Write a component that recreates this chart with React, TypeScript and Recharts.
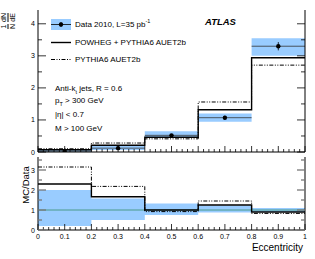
import React from 'react';
import {
  ComposedChart, Line, Area, Scatter, ErrorBar, XAxis, YAxis, ReferenceLine,
} from 'recharts';

// bin edges of eccentricity
const edges = [0, 0.2, 0.4, 0.6, 0.8, 1.0];
const centers = [0.1, 0.3, 0.5, 0.7, 0.9];

// 1/N dN/dE
const dataVals = [0.03, 0.12, 0.52, 1.07, 3.3];
const dataStat = [0.01, 0.02, 0.03, 0.06, 0.13];
const dataSysLo = [0.01, 0.06, 0.44, 0.94, 3.0];
const dataSysHi = [0.06, 0.19, 0.65, 1.2, 3.55];
const powheg = [0.07, 0.21, 0.46, 1.32, 2.94];
const pythia = [0.1, 0.28, 0.41, 1.56, 2.71];

// MC / Data
const ratioPowheg = [2.3, 1.66, 1.0, 1.25, 0.9];
const ratioPythia = [3.15, 2.18, 0.92, 1.45, 0.83];
const ratioBandLo = [0.2, 0.5, 0.75, 0.88, 0.9];
const ratioBandHi = [2.0, 1.57, 1.32, 1.22, 1.1];

const xMajor = ['0', '0.1', '0.2', '0.3', '0.4', '0.5', '0.6', '0.7', '0.8', '0.9', '1'];

const FONT = '"Liberation Sans", Arial, sans-serif';
const BLUE = '#99ccff';

const steps = (vals: number[]) => edges.map((_, i) => vals[Math.min(i, vals.length - 1)]);

const topPow = steps(powheg);
const topPy = steps(pythia);
const topLo = steps(dataSysLo);
const topHi = steps(dataSysHi);
const topRows = edges.map((x, i) => ({ x, pow: topPow[i], py: topPy[i], band: [topLo[i], topHi[i]] }));

const rPow = steps(ratioPowheg);
const rPy = steps(ratioPythia);
const rLo = steps(ratioBandLo);
const rHi = steps(ratioBandHi);
const ratioRows = edges.map((x, i) => ({ x, pow: rPow[i], py: rPy[i], band: [rLo[i], rHi[i]] }));

const points = centers.map((x, i) => ({ x, y: dataVals[i], ey: dataStat[i], ex: 0.1 }));

const range = (a: number, b: number, s: number) => {
  const out: number[] = [];
  for (let v = a; v <= b + 1e-9; v += s) out.push(Math.round(v * 1000) / 1000);
  return out;
};
const xTicks = range(0, 1, 0.02);
const isMajorX = (v: number) => Math.abs(v * 10 - Math.round(v * 10)) < 1e-6;
const isInt = (v: number) => Math.abs(v - Math.round(v)) < 1e-6;

const BottomTick = ({ x, y, payload, labels }: any) => {
  const major = isMajorX(payload.value);
  const idx = Math.round(payload.value * 10);
  return (
    <g>
      <line x1={x} x2={x} y1={y} y2={y - (major ? 6 : 3)} stroke="#000" strokeWidth={0.8} />
      {labels && major && (
        <text x={x} y={y + 9} textAnchor="middle" fontSize={7} fontFamily={FONT} fill="#000">
          {xMajor[idx]}
        </text>
      )}
    </g>
  );
};

const TopTick = ({ x, y, payload }: any) => {
  const major = isMajorX(payload.value);
  return <line x1={x} x2={x} y1={y} y2={y + (major ? 6 : 3)} stroke="#000" strokeWidth={0.8} />;
};

const LeftTick = ({ x, y, payload, grey }: any) => {
  const major = isInt(payload.value);
  return (
    <g>
      <line x1={x} x2={x + (major ? 8 : 4)} y1={y} y2={y} stroke={grey ? '#777' : '#000'} strokeWidth={grey ? 1.3 : 0.8} />
      {major && (
        <text x={x - 3} y={y + 2.5} textAnchor="end" fontSize={7} fontFamily={FONT} fill="#000">
          {payload.value}
        </text>
      )}
    </g>
  );
};

const RightTick = ({ x, y, payload, grey }: any) => {
  const major = isInt(payload.value);
  return <line x1={x} x2={x - (major ? 8 : 4)} y1={y} y2={y} stroke={grey ? '#777' : '#000'} strokeWidth={grey ? 1.3 : 0.8} />;
};

const Frac = ({ n, d }: { n: string; d: string }) => (
  <span style={{ display: 'inline-block', textAlign: 'center', verticalAlign: 'middle', margin: '0 1px' }}>
    <span style={{ display: 'block', lineHeight: '8px' }}>{n}</span>
    <span style={{ display: 'block', borderTop: '0.8px solid #000', lineHeight: '8px' }}>{d}</span>
  </span>
);

const txt: React.CSSProperties = { position: 'absolute', fontFamily: FONT, fontSize: 8, color: '#000', whiteSpace: 'nowrap', lineHeight: '10px' };

export default function App() {
  const topDomain = [0, 4.43];
  const ratioDomain = [0, 3.65];
  return (
    <div style={{ position: 'absolute', left: 0, top: 0, width: 315, height: 259, background: '#fff', overflow: 'hidden' }}>
      <div style={{ position: 'absolute', left: 0, top: 0 }}>
        <ComposedChart width={315} height={160} data={topRows} margin={{ top: 10, right: 9, left: 8, bottom: 0 }}>
          <XAxis dataKey="x" type="number" domain={[0, 1]} ticks={xTicks} interval={0} height={8}
            tickSize={0} tickMargin={0} tickLine={false} axisLine={{ stroke: '#000' }}
            tick={<BottomTick labels={false} />} allowDataOverflow />
          <XAxis xAxisId="t" orientation="top" type="number" domain={[0, 1]} ticks={xTicks} interval={0} height={0}
            tickSize={0} tickMargin={0} tickLine={false} axisLine={{ stroke: '#000' }} tick={<TopTick />} allowDataOverflow />
          <YAxis type="number" domain={topDomain} ticks={range(0, 4, 0.5)} interval={0} width={30}
            tickSize={0} tickMargin={0} tickLine={false} axisLine={{ stroke: '#000' }} tick={<LeftTick />} allowDataOverflow />
          <YAxis yAxisId="r" orientation="right" type="number" domain={topDomain} ticks={range(0, 4, 0.5)} interval={0} width={1}
            tickSize={0} tickMargin={0} tickLine={false} axisLine={{ stroke: '#000' }} tick={<RightTick />} allowDataOverflow />
          <Area dataKey="band" type="stepAfter" stroke="none" fill={BLUE} fillOpacity={1} isAnimationActive={false} />
          <Line dataKey="py" type="stepAfter" stroke="#000" strokeWidth={1} strokeDasharray="4 1.5 1 1.5 1 1.5" dot={false} isAnimationActive={false} />
          <Line dataKey="pow" type="stepAfter" stroke="#000" strokeWidth={1.4} dot={false} isAnimationActive={false} />
          <Scatter data={points} dataKey="y" fill="#000" shape={(p: any) => <circle cx={p.cx} cy={p.cy} r={2.2} fill="#000" />} isAnimationActive={false}>
            <ErrorBar dataKey="ey" direction="y" width={0} stroke="#000" strokeWidth={0.8} />
            <ErrorBar dataKey="ex" direction="x" width={0} stroke="#333" strokeWidth={0.8} />
          </Scatter>
        </ComposedChart>
      </div>

      <div style={{ position: 'absolute', left: 0, top: 150 }}>
        <ComposedChart width={315} height={109} data={ratioRows} margin={{ top: 7, right: 9, left: 8, bottom: 0 }}>
          <XAxis dataKey="x" type="number" domain={[0, 1]} ticks={xTicks} interval={0} height={29}
            tickSize={0} tickMargin={0} tickLine={false} axisLine={{ stroke: '#000' }}
            tick={<BottomTick labels />} allowDataOverflow />
          <XAxis xAxisId="t" orientation="top" type="number" domain={[0, 1]} ticks={xTicks} interval={0} height={0}
            tickSize={0} tickMargin={0} tickLine={false} axisLine={{ stroke: '#000' }} tick={<TopTick />} allowDataOverflow />
          <YAxis type="number" domain={ratioDomain} ticks={range(0, 3.5, 0.5)} interval={0} width={30}
            tickSize={0} tickMargin={0} tickLine={false} axisLine={{ stroke: '#000' }} tick={<LeftTick grey />} allowDataOverflow />
          <YAxis yAxisId="r" orientation="right" type="number" domain={ratioDomain} ticks={range(0, 3.5, 0.5)} interval={0} width={1}
            tickSize={0} tickMargin={0} tickLine={false} axisLine={{ stroke: '#000' }} tick={<RightTick grey />} allowDataOverflow />
          <Area dataKey="band" type="stepAfter" stroke="none" fill={BLUE} fillOpacity={1} isAnimationActive={false} />
          <ReferenceLine y={1} stroke="#4a9a8a" strokeWidth={1} />
          <Line dataKey="py" type="stepAfter" stroke="#000" strokeWidth={1} strokeDasharray="4 1.5 1 1.5 1 1.5" dot={false} isAnimationActive={false} />
          <Line dataKey="pow" type="stepAfter" stroke="#000" strokeWidth={1.4} dot={false} isAnimationActive={false} />
        </ComposedChart>
      </div>

      {/* legend */}
      <svg style={{ position: 'absolute', left: 0, top: 0 }} width={80} height={70}>
        <rect x={51} y={19} width={20} height={11} fill={BLUE} />
        <line x1={51} x2={71} y1={24.5} y2={24.5} stroke="#000" strokeWidth={0.8} />
        <line x1={61} x2={61} y1={22} y2={27} stroke="#000" strokeWidth={0.8} />
        <circle cx={61} cy={24.5} r={2.2} fill="#000" />
        <line x1={51} x2={71} y1={42.5} y2={42.5} stroke="#000" strokeWidth={1.4} />
        <line x1={51} x2={71} y1={59.5} y2={59.5} stroke="#000" strokeWidth={1} strokeDasharray="4 1.5 1 1.5 1 1.5" />
      </svg>
      <div style={{ ...txt, left: 75, top: 19.5 }}>Data 2010, L=35 pb<sup style={{ fontSize: 5.5, lineHeight: 0 }}>-1</sup></div>
      <div style={{ ...txt, left: 75, top: 37.5 }}>POWHEG + PYTHIA6 AUET2b</div>
      <div style={{ ...txt, left: 75, top: 54.5 }}>PYTHIA6 AUET2b</div>
      <div style={{ ...txt, left: 205, top: 17, fontSize: 9.5, fontWeight: 'bold', fontStyle: 'italic' }}>ATLAS</div>

      <div style={{ ...txt, left: 55, top: 84 }}>Anti-k<sub style={{ fontSize: 5.5, lineHeight: 0 }}>t</sub> jets, R = 0.6</div>
      <div style={{ ...txt, left: 55, top: 96 }}>p<sub style={{ fontSize: 5.5, lineHeight: 0 }}>T</sub> &gt; 300 GeV</div>
      <div style={{ ...txt, left: 55, top: 110 }}>|η| &lt; 0.7</div>
      <div style={{ ...txt, left: 55, top: 124 }}>M &gt; 100 GeV</div>

      {/* axis titles */}
      <div style={{ position: 'absolute', left: 8, top: 21, fontFamily: FONT, fontSize: 7, color: '#000', whiteSpace: 'nowrap', transform: 'translate(-50%, -50%) rotate(-90deg)' }}>
        <Frac n="1" d="N" />
        <Frac n="dN" d="dE" />
      </div>
      <div style={{ position: 'absolute', left: 25, top: 185, fontFamily: FONT, fontSize: 9.5, color: '#000', whiteSpace: 'nowrap', transform: 'translate(-50%, -50%) rotate(-90deg)' }}>
        MC/Data
      </div>
      <div style={{ ...txt, right: 12, top: 242, fontSize: 10, lineHeight: '12px' }}>Eccentricity</div>
    </div>
  );
}
